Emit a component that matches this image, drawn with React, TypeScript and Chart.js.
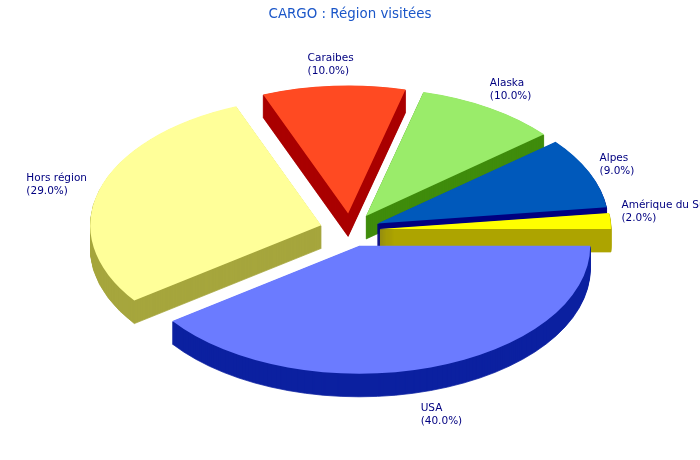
import React, { useEffect, useRef } from "react";
import { Chart, registerables } from "chart.js";

Chart.register(...registerables);

const TITLE = "CARGO : Région visitées";
const CATEGORIES = ["USA", "Hors région", "Caraibes", "Alaska", "Alpes", "Amérique du Sud"];
const VALUES = [40, 29, 10, 10, 9, 2];
const TOP_COLORS = ["#6b7bff", "#ffff99", "#ff4a22", "#9aec6a", "#0059bb", "#ffff00"];
const WALL_COLORS = ["#0c21a0", "#a6a63d", "#aa0000", "#3f8c0c", "#000080", "#ada500"];

// layout of the tilted pie
const CX = 350, CY = 230, RADIUS = 231, TILT = 128 / 231, EXPLODE = 30, DEPTH = 23;
const DRAW_ORDER = [2, 3, 4, 5, 1, 0];
const LABEL_NUDGE: [number, number][] = [[-10, 41], [-73, -11], [-26, -27], [0, -25], [10, -14], [11, -16]];

const pie3d = {
  id: "pie3d",
  beforeDatasetDraw(chart: any) {
    const ctx = chart.ctx;
    const arcs = chart.getDatasetMeta(0).data;
    const place = (el: any, dy: number) => {
      const mid = (el.startAngle + el.endAngle) / 2;
      ctx.translate(CX, CY + dy);
      ctx.scale(1, TILT);
      ctx.translate(Math.cos(mid) * EXPLODE - el.x, Math.sin(mid) * EXPLODE - el.y);
    };
    for (const i of DRAW_ORDER) {
      const el = arcs[i];
      const base = el.options;
      el.options = new Proxy(base, {
        get: (t: any, k) =>
          k === "backgroundColor" || k === "borderColor"
            ? WALL_COLORS[i]
            : k === "borderWidth"
              ? 1
              : t[k],
      });
      for (let d = DEPTH; d >= 1; d--) {
        ctx.save();
        place(el, d);
        el.draw(ctx);
        ctx.restore();
      }
      el.options = base;
      ctx.save();
      place(el, 0);
      el.draw(ctx);
      ctx.restore();
    }
    ctx.save();
    ctx.font = "10.5px 'DejaVu Sans'";
    ctx.fillStyle = "#000080";
    ctx.textAlign = "left";
    ctx.textBaseline = "middle";
    arcs.forEach((el: any, i: number) => {
      const mid = (el.startAngle + el.endAngle) / 2;
      const r = RADIUS + EXPLODE;
      const x = CX + Math.cos(mid) * r + LABEL_NUDGE[i][0];
      const y = CY + Math.sin(mid) * r * TILT + LABEL_NUDGE[i][1];
      ctx.fillText(CATEGORIES[i], x, y);
      ctx.fillText(`(${VALUES[i].toFixed(1)}%)`, x, y + 13);
    });
    ctx.restore();
    return false;
  },
};

export default function App() {
  const ref = useRef<HTMLCanvasElement>(null);
  useEffect(() => {
    const chart = new Chart(ref.current!, {
      type: "pie",
      data: {
        labels: CATEGORIES,
        datasets: [{ data: VALUES, backgroundColor: TOP_COLORS, borderWidth: 0 }],
      },
      options: {
        animation: false,
        responsive: false,
        devicePixelRatio: 1,
        events: [],
        rotation: 90,
        radius: RADIUS,
        clip: false,
        layout: { padding: 0 },
        plugins: {
          legend: { display: false },
          tooltip: { enabled: false },
          title: {
            display: true,
            text: TITLE,
            color: "#1a56c8",
            font: { family: "'DejaVu Sans'", size: 13.4, weight: "normal" },
            padding: { top: 6, bottom: 4 },
          },
        },
      } as any,
      plugins: [pie3d],
    });
    return () => chart.destroy();
  }, []);
  return (
    <canvas
      ref={ref}
      width={700}
      height={460}
      style={{ position: "fixed", left: 0, top: 0, width: 700, height: 460, background: "#fff" }}
    />
  );
}
